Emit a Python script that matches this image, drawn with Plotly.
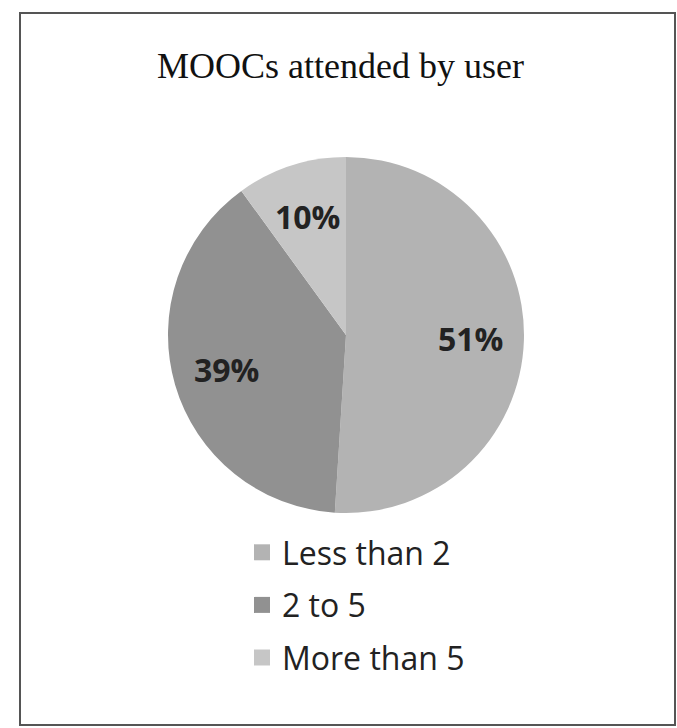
import math
import plotly.graph_objects as go

title_text = "MOOCs attended by user"
categories = ["Less than 2", "2 to 5", "More than 5"]
values = [51, 39, 10]
colors = ["#b3b3b3", "#919191", "#c6c6c6"]

W, H = 677, 728
CX, CY, R = 346, 335, 178  # pie centre / radius in pixels (layout)

fig = go.Figure()
fig.add_trace(go.Pie(
    labels=categories, values=values, sort=False, direction="clockwise",
    rotation=0, marker=dict(colors=colors, line=dict(width=0)),
    textinfo="none",
    domain=dict(x=[(CX - R) / W, (CX + R) / W], y=[(H - CY - R) / H, (H - CY + R) / H]),
    showlegend=False, hoverinfo="label+percent",
))
for c, col in zip(categories, colors):
    fig.add_trace(go.Scatter(
        x=[None], y=[None], mode="markers", name=c, legendgroup=c,
        marker=dict(symbol="square", size=20, color=col),
        showlegend=True,
    ))

# slice labels placed at the mid-angle of each slice (derived from the data)
annotations = []
total = sum(values)
cum = 0
for v in values:
    mid = (cum + v / 2) / total * 2 * math.pi
    cum += v
    px = CX + 0.7 * R * math.sin(mid)
    py = CY - 0.7 * R * math.cos(mid)
    annotations.append(dict(
        text=f"{round(v / total * 100)}%", x=px / W, y=1 - py / H,
        xref="paper", yref="paper", showarrow=False,
        xanchor="center", yanchor="middle",
        font=dict(family="Open Sans", size=32, color="#222222", weight="bold")))

annotations.append(dict(text=title_text, x=340 / W, y=1 - 66 / H, xref="paper", yref="paper",
                        showarrow=False, xanchor="center", yanchor="middle",
                        font=dict(family="Liberation Serif", size=36, color="#111111")))

fig.update_layout(
    width=W, height=H, margin=dict(l=0, r=0, t=0, b=0),
    paper_bgcolor="white", plot_bgcolor="white",
    xaxis=dict(visible=False), yaxis=dict(visible=False),
    showlegend=True,
    legend=dict(x=(262 - 20) / W, y=1 - 525 / H, xanchor="left", yanchor="top",
                font=dict(family="Open Sans", size=32, color="#222222"),
                tracegroupgap=8, itemsizing="trace", bgcolor="rgba(0,0,0,0)"),
    annotations=annotations,
    shapes=[dict(type="rect", xref="paper", yref="paper",
                 x0=20 / W, x1=675 / W, y0=1 - 725 / H, y1=1 - 13 / H,
                 line=dict(color="#555555", width=2))],
)
fig.write_html("out.html")
